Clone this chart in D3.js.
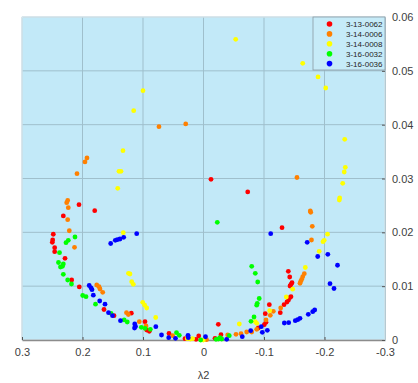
<!DOCTYPE html>
<html>
<head>
<meta charset="utf-8">
<script src="https://cdn.jsdelivr.net/npm/d3@7"></script>
<style>
  body { margin: 0; background: #fff; }
  svg { font-family: "Liberation Sans", Arial, sans-serif; }
</style>
</head>
<body>
<div id="chart"></div>
<script>
// series names and colours
const seriesNames = ['3-13-0062', '3-14-0006', '3-14-0008', '3-16-0032', '3-16-0036'];
const seriesColors = ['#ff0000', '#ff8000', '#ffff00', '#00ff00', '#0000ff'];

// [λ2, value] pairs
const red = [
  [-0.0124, 0.02985], [-0.0731, 0.0275], [-0.1298, 0.02086], [0.2058, 0.02513], [0.1798, 0.02402],
  [0.2317, 0.02304], [0.2483, 0.01964], [0.2493, 0.01858], [0.2499, 0.01815], [0.2460, 0.01715],
  [0.2460, 0.0164], [0.2289, 0.01518], [0.2179, 0.01115], [0.2053, 0.00985], [0.1645, 0.00567],
  [0.1479, 0.00451], [0.1193, 0.00498], [0.0967, 0.0034], [0.0939, 0.00186], [0.0896, 0.00162],
  [0.057, 0.00121], [0.0306, 0.00024], [0.0124, 0.00013], [0.0079, 0.00074], [-0.019, 0.00032],
  [-0.0289, 0.00098], [-0.0245, 0.00292], [-0.0906, 0.00223], [-0.1033, 0.00329], [-0.1005, 0.00284],
  [-0.1021, 0.00489], [-0.1088, 0.00656], [-0.1269, 0.00507], [-0.1331, 0.00656], [-0.138, 0.00706],
  [-0.1405, 0.00743], [-0.1425, 0.00786], [-0.1446, 0.00804], [-0.143, 0.01003], [-0.1446, 0.01035],
  [-0.1463, 0.01064], [-0.1425, 0.0117], [-0.1402, 0.01276]
];
const orange = [
  [0.0736, 0.03962], [0.0294, 0.04013], [0.1926, 0.03381], [0.1959, 0.03307], [0.2091, 0.03089],
  [0.2245, 0.02592], [0.2261, 0.02551], [0.2235, 0.02458], [0.2245, 0.02235], [0.2218, 0.02029],
  [0.2132, 0.01722], [0.1765, 0.01022], [0.1727, 0.0099], [0.1711, 0.00947], [0.1666, 0.00886],
  [0.1273, 0.00507], [0.1243, 0.00474], [0.1061, 0.0034], [0.095, 0.0026], [0.0509, 0.0008],
  [-0.005, 0.00006], [-0.04, 0.00093], [-0.0537, 0.00106], [-0.062, 0.00117], [-0.0714, 0.00149],
  [-0.0797, 0.00149], [-0.0879, 0.00199], [-0.1033, 0.00372], [-0.1104, 0.00459], [-0.1154, 0.00533],
  [-0.1276, 0.00594], [-0.1545, 0.03019], [-0.1765, 0.02396], [-0.1772, 0.02372], [-0.1798, 0.02112],
  [-0.1785, 0.01858], [-0.1666, 0.01232], [-0.164, 0.01176], [-0.1623, 0.01128], [-0.1607, 0.0109],
  [-0.1595, 0.01053]
];
const yellow = [
  [-0.0532, 0.05586], [-0.164, 0.0514], [-0.1893, 0.04886], [-0.202, 0.04681], [0.1, 0.04631],
  [0.1154, 0.0426], [0.1331, 0.03517], [-0.2334, 0.03728], [-0.2344, 0.03208], [-0.2326, 0.03121],
  [-0.2301, 0.02911], [0.1397, 0.03134], [0.1364, 0.03134], [0.1418, 0.02818], [0.1326, 0.01993],
  [-0.2251, 0.02638], [-0.2245, 0.02601], [-0.205, 0.01965], [-0.1995, 0.01852], [-0.1975, 0.01826],
  [-0.1912, 0.01648], [-0.1683, 0.01347], [-0.1474, 0.00944], [-0.1369, 0.00799], [0.124, 0.01239],
  [0.1215, 0.01226], [0.1187, 0.01083], [0.116, 0.01035], [0.1005, 0.007], [0.0972, 0.00646],
  [0.0939, 0.00594], [0.079, 0.00418], [0.0268, 0.00024], [0.0218, 0.00019], [0.0179, 0.00024],
  [0.0003, 0.0], [-0.0592, 0.00297], [-0.0856, 0.0034], [-0.0879, 0.0031], [-0.1094, 0.00544]
];
const green = [
  [-0.0228, 0.02186], [0.2124, 0.01913], [0.2235, 0.01852], [0.2273, 0.01808], [0.238, 0.01622],
  [0.2397, 0.0144], [0.2317, 0.01412], [0.2364, 0.01356], [0.2331, 0.01369], [0.2317, 0.0122],
  [0.2245, 0.01115], [0.2182, 0.0104], [0.1997, 0.00827], [0.1942, 0.00804], [0.1785, 0.00665],
  [0.1529, 0.00496], [0.1311, 0.00372], [0.126, 0.00334], [0.1028, 0.00236], [0.0967, 0.00217],
  [0.0879, 0.00199], [0.0446, 0.00136], [0.04, 0.00087], [0.0046, 0.0], [-0.0207, 0.00013],
  [-0.0245, 0.00019], [-0.0273, 0.00043], [-0.0301, 0.00019], [-0.0426, 0.0008], [-0.0785, 0.00347],
  [-0.0835, 0.00427], [-0.0879, 0.00646], [-0.0889, 0.00682], [-0.0921, 0.00771], [-0.0896, 0.01077],
  [-0.0856, 0.01239], [-0.0797, 0.01369]
];
const blue = [
  [-0.1111, 0.01975], [0.1104, 0.01975], [0.1319, 0.01908], [0.138, 0.01876], [0.1425, 0.01863],
  [0.1458, 0.01852], [0.1534, 0.01793], [0.1889, 0.01012], [0.186, 0.0097], [0.1843, 0.00934],
  [0.1821, 0.00832], [0.1716, 0.00724], [0.1628, 0.00665], [0.157, 0.00507], [0.1504, 0.00451],
  [0.1372, 0.00359], [0.1137, 0.00297], [0.1124, 0.00251], [0.114, 0.00223], [0.0788, 0.00247],
  [0.0694, 0.00093], [0.0575, 0.00043], [0.0463, 0.00032], [0.0256, 0.00087], [0.0251, 0.00043],
  [-0.0033, 0.0006], [-0.0383, 0.00013], [-0.0641, 0.00061], [-0.078, 0.00173], [-0.0955, 0.00247],
  [-0.1055, 0.0018], [-0.0972, 0.00143], [-0.1336, 0.00316], [-0.1408, 0.00321], [-0.1517, 0.00359],
  [-0.1557, 0.00377], [-0.1595, 0.00403], [-0.1732, 0.00477], [-0.1805, 0.00526], [-0.1838, 0.00557],
  [-0.2091, 0.01046], [-0.2157, 0.00957], [-0.2215, 0.01389], [-0.2055, 0.01592], [-0.1888, 0.01551],
  [-0.1714, 0.01815]
];

const xTicks = [0.3, 0.2, 0.1, 0, -0.1, -0.2, -0.3];
const yTicks = [0, 0.01, 0.02, 0.03, 0.04, 0.05, 0.06];
const xLabel = 'λ2';

const allSeries = [red, orange, yellow, green, blue];

const margin = { top: 17, right: 33, bottom: 43, left: 22 };
const totalW = 418, totalH = 383;
const width = totalW - margin.left - margin.right;
const height = totalH - margin.top - margin.bottom;

const svg = d3.select('#chart')
    .append('svg')
    .attr('width', totalW)
    .attr('height', totalH)
    .append('g')
    .attr('transform', `translate(${margin.left},${margin.top})`);

// reversed x axis, as in the picture
const x = d3.scaleLinear().domain([0.3, -0.3]).range([0, width]);
const y = d3.scaleLinear().domain([0, 0.06]).range([height, 0]);

// plot background
svg.append('rect')
    .attr('width', width)
    .attr('height', height)
    .attr('fill', '#c2e9f8');

// grid lines
svg.append('g')
    .selectAll('line')
    .data(xTicks)
    .join('line')
    .attr('x1', d => x(d)).attr('x2', d => x(d))
    .attr('y1', 0).attr('y2', height)
    .attr('stroke', '#9fbfcc')
    .attr('stroke-width', 1);

svg.append('g')
    .selectAll('line')
    .data(yTicks)
    .join('line')
    .attr('x1', 0).attr('x2', width)
    .attr('y1', d => y(d)).attr('y2', d => y(d))
    .attr('stroke', '#9fbfcc')
    .attr('stroke-width', 1);

// box edges (top/left faint)
svg.append('rect')
    .attr('width', width)
    .attr('height', height)
    .attr('fill', 'none')
    .attr('stroke', '#e4eef2')
    .attr('stroke-width', 1);

// axes
const xAxis = d3.axisBottom(x)
    .tickValues(xTicks)
    .tickFormat(d => d === 0 ? '0' : d3.format('.1f')(d).replace('−', '-'))
    .tickSizeInner(-3)
    .tickSizeOuter(0)
    .tickPadding(8);

const gx = svg.append('g')
    .attr('transform', `translate(0,${height})`)
    .call(xAxis);
gx.select('.domain').attr('stroke', '#8c8c8c').attr('stroke-width', 1.5);
gx.selectAll('.tick line').attr('stroke', '#555');
gx.selectAll('text').attr('fill', '#404040').style('font-size', '11px');

const yAxis = d3.axisRight(y)
    .tickValues(yTicks)
    .tickFormat(d => d === 0 ? '0' : d3.format('.2f')(d))
    .tickSizeInner(-3)
    .tickSizeOuter(0)
    .tickPadding(7);

const gy = svg.append('g')
    .attr('transform', `translate(${width},0)`)
    .call(yAxis);
gy.select('.domain').attr('stroke', '#b5c9d1');
gy.selectAll('.tick line').attr('stroke', '#555');
gy.selectAll('text').attr('fill', '#404040').style('font-size', '11px');

// axis label
svg.append('text')
    .attr('x', x(0))
    .attr('y', height + 39)
    .attr('text-anchor', 'middle')
    .attr('fill', '#404040')
    .style('font-size', '11px')
    .text(xLabel);

// points
allSeries.forEach((pts, i) => {
    svg.append('g')
        .selectAll('circle')
        .data(pts)
        .join('circle')
        .attr('cx', d => x(d[0]))
        .attr('cy', d => y(d[1]))
        .attr('r', 2.4)
        .attr('fill', seriesColors[i]);
});

// legend
const legend = svg.append('g')
    .attr('transform', `translate(${width - 72},0)`);

legend.append('rect')
    .attr('width', 72)
    .attr('height', 53)
    .attr('fill', '#c6ebf8')
    .attr('stroke', '#8a9aa2')
    .attr('stroke-width', 0.8);

seriesNames.forEach((name, i) => {
    const row = legend.append('g')
        .attr('transform', `translate(0,${7 + i * 9.9})`);
    row.append('circle')
        .attr('cx', 16.5)
        .attr('cy', 0)
        .attr('r', 2.8)
        .attr('fill', seriesColors[i]);
    row.append('text')
        .attr('x', 33)
        .attr('y', 3)
        .attr('fill', '#262626')
        .style('font-size', '8px')
        .text(name);
});
</script>
</body>
</html>
